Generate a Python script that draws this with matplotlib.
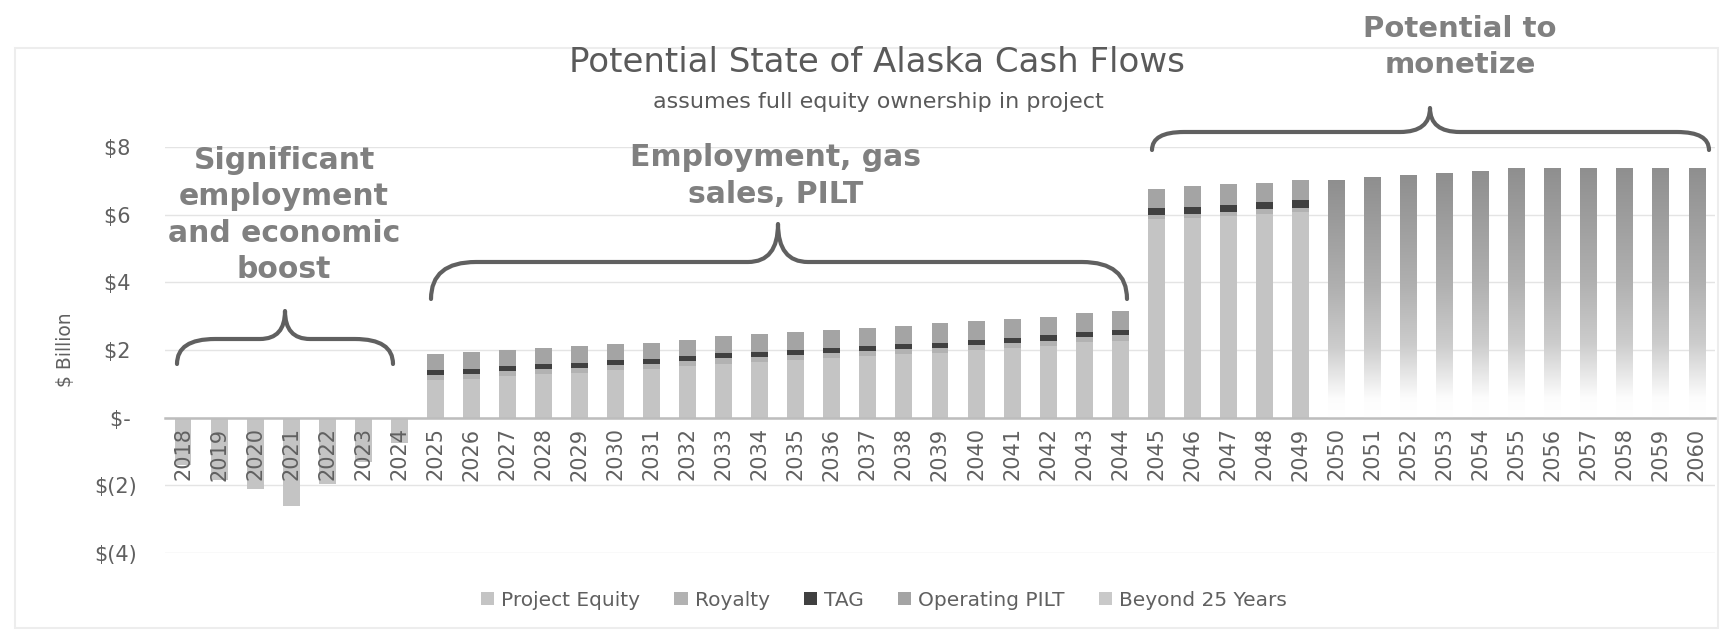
import numpy as np
import matplotlib
matplotlib.use("Agg")
import matplotlib.pyplot as plt
from matplotlib.patches import Patch, PathPatch, Rectangle
from matplotlib.path import Path

# ---------------- data ----------------
years = [str(y) for y in range(2018, 2061)]

project_equity = [-1.40, -1.85, -2.10, -2.60, -1.95, -1.30, -0.75,
                  1.12, 1.15, 1.22, 1.28, 1.33, 1.40, 1.44, 1.52, 1.60, 1.65,
                  1.70, 1.76, 1.81, 1.87, 1.92, 2.00, 2.06, 2.13, 2.23, 2.28,
                  5.87, 5.90, 5.96, 6.03, 6.08,
                  0, 0, 0, 0, 0, 0, 0, 0, 0, 0, 0]
royalty = [0, 0, 0, 0, 0, 0, 0,
           0.15, 0.15, 0.15, 0.15, 0.15, 0.15, 0.15, 0.15, 0.15, 0.15,
           0.15, 0.15, 0.15, 0.15, 0.15, 0.15, 0.15, 0.15, 0.15, 0.15,
           0.13, 0.13, 0.13, 0.13, 0.13,
           0, 0, 0, 0, 0, 0, 0, 0, 0, 0, 0]
tag = [0, 0, 0, 0, 0, 0, 0,
       0.15, 0.15, 0.15, 0.15, 0.15, 0.15, 0.15, 0.15, 0.15, 0.15,
       0.15, 0.15, 0.15, 0.15, 0.15, 0.15, 0.15, 0.15, 0.15, 0.15,
       0.21, 0.21, 0.21, 0.21, 0.21,
       0, 0, 0, 0, 0, 0, 0, 0, 0, 0, 0]
operating_pilt = [0, 0, 0, 0, 0, 0, 0,
                  0.46, 0.50, 0.48, 0.48, 0.49, 0.48, 0.48, 0.48, 0.50, 0.51,
                  0.52, 0.54, 0.55, 0.55, 0.57, 0.55, 0.57, 0.56, 0.55, 0.58,
                  0.56, 0.61, 0.60, 0.58, 0.61,
                  0, 0, 0, 0, 0, 0, 0, 0, 0, 0, 0]
beyond_25 = [0] * 32 + [7.03, 7.10, 7.18, 7.24, 7.30, 7.39, 7.39, 7.39, 7.39, 7.39, 7.39]

series_names = ["Project Equity", "Royalty", "TAG", "Operating PILT", "Beyond 25 Years"]

ytick_vals = [-4, -2, 0, 2, 4, 6, 8]
ytick_labels = ["$(4)", "$(2)", "$- ", "$2 ", "$4 ", "$6 ", "$8 "]

title = "Potential State of Alaska Cash Flows"
subtitle = "assumes full equity ownership in project"
ylabel = "$ Billion"
notes = ["Significant\nemployment\nand economic\nboost",
         "Employment, gas\nsales, PILT",
         "Potential to\nmonetize"]

# ---------------- style ----------------
W, H = 1730, 633
c_pe, c_roy, c_tag, c_pilt, c_beyond = "#c4c4c4", "#b2b2b2", "#404040", "#a4a4a4", "#c9c9c9"
txt = "#606060"
note_c = "#808080"

fig = plt.figure(figsize=(W / 100, H / 100), dpi=100)
fig.patch.set_facecolor("white")
ax = fig.add_axes([165 / W, 1 - 553 / H, 1550 / W, 406 / H])

x = np.arange(len(years))
bw = 0.47
pe = np.array(project_equity)
roy = np.array(royalty)
tg = np.array(tag)
pl = np.array(operating_pilt)
by = np.array(beyond_25)

b0 = np.where(pe > 0, pe, 0)
ax.bar(x, pe, bw, color=c_pe, zorder=2, label=series_names[0])
ax.bar(x, roy, bw, bottom=b0, color=c_roy, zorder=2, label=series_names[1])
ax.bar(x, tg, bw, bottom=b0 + roy, color=c_tag, zorder=2, label=series_names[2])
ax.bar(x, pl, bw, bottom=b0 + roy + tg, color=c_pilt, zorder=2, label=series_names[3])
cont = ax.bar(x, by, bw, color="none", edgecolor="none", zorder=2, label=series_names[4])

# gradient fill of "Beyond 25 Years" bars
fs = [0.0, 0.08, 0.16, 0.30, 0.55, 1.0]
gs = [1.0, 0.99, 0.92, 0.80, 0.69, 0.56]
ff = np.linspace(0, 1, 256)
gg = np.interp(ff, fs, gs)
img = np.dstack([gg, gg, gg]).reshape(256, 1, 3)
for rect in cont.patches:
    h = rect.get_height()
    if h <= 0:
        continue
    x0 = rect.get_x()
    im = ax.imshow(img, extent=[x0, x0 + rect.get_width(), 0, h], origin="lower",
                   aspect="auto", zorder=2, interpolation="bilinear")
    im.set_clip_path(rect)

ax.set_xlim(-0.5, len(years) - 0.5)
ax.set_ylim(-4, 8)
ax.set_aspect("auto")

for s in ["top", "right", "left"]:
    ax.spines[s].set_visible(False)
ax.spines["bottom"].set_position(("data", 0))
ax.spines["bottom"].set_color("#bdbdbd")
ax.spines["bottom"].set_linewidth(1.8)
ax.spines["bottom"].set_zorder(3)

ax.set_yticks(ytick_vals)
ax.set_yticklabels(ytick_labels)
ax.set_xticks(x)
ax.set_xticklabels(years, rotation=90)
ax.tick_params(axis="x", length=0, pad=7, labelsize=15, labelcolor=txt)
ax.tick_params(axis="y", length=0, pad=20, labelsize=15, labelcolor=txt)
for lab in ax.get_yticklabels():
    lab.set_horizontalalignment("right")
ax.yaxis.grid(True, color="#e4e4e4", linewidth=1.0)
ax.set_axisbelow(False)
ax.yaxis.set_zorder(0.5)   # gridlines under the bars
ax.xaxis.set_zorder(4)     # year labels drawn over the negative bars
ax.set_facecolor("none")

# y label
fig.text(65 / W, 1 - 350 / H, ylabel, rotation=90, ha="center", va="center",
         fontsize=13.5, color=txt)

# title & subtitle
fig.text(877 / W, 1 - 63 / H, title, ha="center", va="center", fontsize=24.5, color="#5a5a5a")
fig.text(878 / W, 1 - 102 / H, subtitle, ha="center", va="center", fontsize=16, color="#5a5a5a")

# annotations
fig.text(284 / W, 1 - 215 / H, notes[0], ha="center", va="center", fontsize=21.5,
         fontweight="bold", color=note_c, linespacing=1.32)
fig.text(776 / W, 1 - 176 / H, notes[1], ha="center", va="center", fontsize=21.5,
         fontweight="bold", color=note_c, linespacing=1.32)
fig.text(1460 / W, 1 - 47 / H, notes[2], ha="center", va="center", fontsize=21,
         fontweight="bold", color=note_c, linespacing=1.32)


def brace(x0, x1, xt, y_end, y_h, y_tip, r_end, r_tip):
    pts = [(x0, y_end), (x0, y_h), (x0 + r_end, y_h),
           (xt - r_tip, y_h), (xt, y_h), (xt, y_tip),
           (xt, y_h), (xt + r_tip, y_h),
           (x1 - r_end, y_h), (x1, y_h), (x1, y_end)]
    codes = [Path.MOVETO, Path.CURVE3, Path.CURVE3,
             Path.LINETO, Path.CURVE3, Path.CURVE3,
             Path.CURVE3, Path.CURVE3,
             Path.LINETO, Path.CURVE3, Path.CURVE3]
    v = [(px / W, 1 - py / H) for px, py in pts]
    p = PathPatch(Path(v, codes), transform=fig.transFigure, fill=False,
                  edgecolor="#606060", linewidth=3.0, capstyle="round", joinstyle="round")
    fig.patches.append(p)


brace(177, 393, 285, 364, 339, 311, 38, 25)
brace(431, 1127, 778, 299, 262, 224, 45, 30)
brace(1152, 1709, 1430, 150, 132, 108, 32, 30)

# faint outer frame
frame = Rectangle((15 / W, 1 - 628 / H), 1703 / W, 580 / H, transform=fig.transFigure,
                  fill=False, edgecolor="#ededed", linewidth=1.5)
fig.patches.append(frame)

# legend
handles = [Patch(facecolor=c, edgecolor="none") for c in [c_pe, c_roy, c_tag, c_pilt, c_beyond]]
leg = fig.legend(handles, series_names, loc="center", bbox_to_anchor=(884 / W, 1 - 600 / H),
                 ncol=5, frameon=False, fontsize=14.5, handlelength=0.65, handleheight=0.65,
                 handletextpad=0.35, columnspacing=1.7, labelcolor=txt)

fig.savefig("out.png", dpi=100, facecolor="white")
